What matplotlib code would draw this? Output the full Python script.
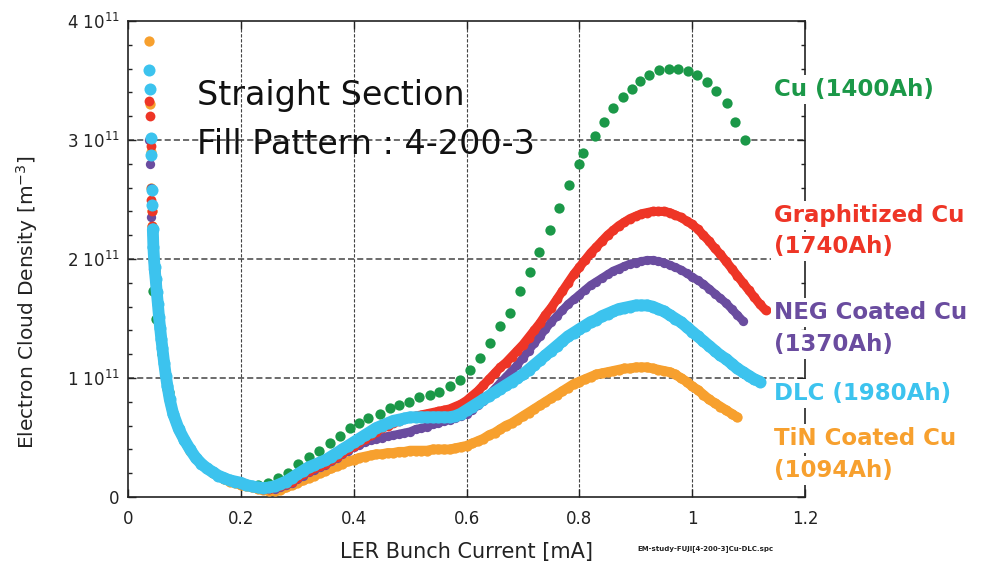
import matplotlib
matplotlib.use("Agg")
import matplotlib.pyplot as plt

plt.rcParams['font.family'] = ['DejaVu Sans']
plt.rcParams['mathtext.default'] = 'regular'

# LER bunch current [mA] for the densely sampled series
x_dense = [0.038, 0.039, 0.040, 0.041, 0.042, 0.043, 0.044, 0.045, 0.047, 0.049,
           0.051, 0.053, 0.055, 0.057, 0.059, 0.061, 0.064, 0.067, 0.070, 0.074,
           0.08, 0.09, 0.10, 0.11, 0.12, 0.13, 0.14, 0.15, 0.16, 0.17,
           0.18, 0.19, 0.20, 0.21, 0.22, 0.23, 0.24, 0.25, 0.26, 0.27,
           0.28, 0.29, 0.30, 0.31, 0.32, 0.33, 0.34, 0.35, 0.36, 0.37,
           0.38, 0.39, 0.40, 0.41, 0.42, 0.43, 0.44, 0.45, 0.46, 0.47,
           0.48, 0.49, 0.50, 0.51, 0.52, 0.53, 0.54, 0.55, 0.56, 0.57,
           0.58, 0.59, 0.60, 0.61, 0.62, 0.63, 0.64, 0.65, 0.66, 0.67,
           0.68, 0.69, 0.70, 0.71, 0.72, 0.73, 0.74, 0.75, 0.76, 0.77,
           0.78, 0.79, 0.80, 0.81, 0.82, 0.83, 0.84, 0.85, 0.86, 0.87,
           0.88, 0.89, 0.90, 0.91, 0.92, 0.93, 0.94, 0.95, 0.96, 0.97,
           0.98, 0.99, 1.00, 1.01, 1.02, 1.03, 1.04, 1.05, 1.06, 1.07,
           1.08, 1.09, 1.10, 1.11, 1.12, 1.13]

# electron cloud density in units of 1e11 m^-3
dlc = [3.59, 3.43, 3.02, 2.87, 2.58, 2.45, 2.25, 2.10, 1.93, 1.83,
       1.72, 1.62, 1.51, 1.42, 1.33, 1.25, 1.13, 1.02, 0.93, 0.82,
       0.70, 0.57, 0.48, 0.40, 0.33, 0.28, 0.24, 0.21, 0.18, 0.16,
       0.14, 0.13, 0.12, 0.10, 0.09, 0.08, 0.075, 0.08, 0.09, 0.11,
       0.13, 0.16, 0.19, 0.22, 0.25, 0.27, 0.29, 0.31, 0.34, 0.37,
       0.40, 0.43, 0.46, 0.49, 0.52, 0.55, 0.58, 0.60, 0.62, 0.64,
       0.65, 0.66, 0.67, 0.67, 0.67, 0.67, 0.67, 0.67, 0.67, 0.67,
       0.68, 0.70, 0.73, 0.76, 0.79, 0.82, 0.85, 0.88, 0.91, 0.94,
       0.97, 1.00, 1.03, 1.07, 1.11, 1.15, 1.19, 1.23, 1.27, 1.31,
       1.35, 1.38, 1.41, 1.44, 1.47, 1.49, 1.52, 1.54, 1.56, 1.58,
       1.59, 1.60, 1.61, 1.61, 1.61, 1.60, 1.58, 1.56, 1.53, 1.50,
       1.47, 1.43, 1.39, 1.35, 1.31, 1.27, 1.23, 1.19, 1.16, 1.12,
       1.08, 1.05, 1.02, 0.99, 0.97]

graphitized = [3.33, 3.20, 2.95, 2.50, 2.40, 2.28, 2.12, 2.00, 1.90, 1.80,
               1.70, 1.60, 1.50, 1.40, 1.32, 1.24, 1.12, 1.01, 0.92, 0.81,
               0.69, 0.57, 0.48, 0.40, 0.33, 0.28, 0.24, 0.21, 0.18, 0.16,
               0.14, 0.13, 0.11, 0.10, 0.09, 0.08, 0.07, 0.07, 0.08, 0.09,
               0.11, 0.13, 0.16, 0.19, 0.22, 0.24, 0.26, 0.28, 0.31, 0.34,
               0.37, 0.40, 0.43, 0.46, 0.49, 0.52, 0.55, 0.58, 0.60, 0.62,
               0.64, 0.66, 0.67, 0.68, 0.69, 0.70, 0.71, 0.72, 0.73, 0.74,
               0.76, 0.78, 0.81, 0.85, 0.89, 0.94, 0.99, 1.04, 1.09, 1.13,
               1.18, 1.23, 1.28, 1.34, 1.40, 1.46, 1.53, 1.59, 1.66, 1.73,
               1.80, 1.87, 1.93, 1.99, 2.05, 2.10, 2.15, 2.20, 2.24, 2.28,
               2.31, 2.34, 2.36, 2.38, 2.39, 2.40, 2.40, 2.40, 2.39, 2.37,
               2.35, 2.32, 2.29, 2.25, 2.20, 2.15, 2.09, 2.04, 1.98, 1.92,
               1.86, 1.80, 1.74, 1.68, 1.62, 1.57]

neg = [3.00, 2.80, 2.60, 2.35, 2.20, 2.10, 2.00, 1.92, 1.85, 1.76,
       1.66, 1.56, 1.46, 1.38, 1.29, 1.21, 1.10, 1.00, 0.91, 0.80,
       0.69, 0.57, 0.48, 0.40, 0.33, 0.28, 0.24, 0.21, 0.18, 0.16,
       0.14, 0.13, 0.11, 0.10, 0.09, 0.08, 0.07, 0.07, 0.07, 0.08,
       0.10, 0.12, 0.15, 0.18, 0.21, 0.23, 0.25, 0.27, 0.30, 0.33,
       0.36, 0.39, 0.42, 0.44, 0.46, 0.48, 0.49, 0.50, 0.51, 0.52,
       0.53, 0.54, 0.55, 0.57, 0.58, 0.59, 0.61, 0.62, 0.64, 0.65,
       0.66, 0.68, 0.70, 0.73, 0.77, 0.81, 0.86, 0.91, 0.96, 1.01,
       1.06, 1.11, 1.17, 1.23, 1.29, 1.35, 1.41, 1.47, 1.52, 1.57,
       1.62, 1.66, 1.70, 1.74, 1.78, 1.81, 1.84, 1.87, 1.90, 1.92,
       1.94, 1.96, 1.97, 1.98, 1.99, 1.99, 1.98, 1.97, 1.95, 1.93,
       1.91, 1.88, 1.85, 1.82, 1.79, 1.75, 1.71, 1.67, 1.63, 1.58,
       1.53, 1.48]

tin = [3.83, 3.30, 2.90, 2.60, 2.40, 2.28, 2.15, 2.02, 1.90, 1.80,
       1.70, 1.60, 1.50, 1.40, 1.31, 1.23, 1.11, 1.01, 0.91, 0.80,
       0.69, 0.56, 0.47, 0.39, 0.33, 0.28, 0.24, 0.20, 0.18, 0.15,
       0.13, 0.12, 0.10, 0.09, 0.08, 0.07, 0.06, 0.05, 0.05, 0.06,
       0.08, 0.10, 0.12, 0.14, 0.16, 0.18, 0.20, 0.22, 0.24, 0.26,
       0.28, 0.30, 0.31, 0.33, 0.34, 0.35, 0.36, 0.36, 0.37, 0.37,
       0.38, 0.38, 0.39, 0.39, 0.39, 0.39, 0.40, 0.40, 0.40, 0.40,
       0.41, 0.42, 0.43, 0.45, 0.47, 0.49, 0.52, 0.54, 0.57, 0.60,
       0.62, 0.65, 0.68, 0.71, 0.74, 0.77, 0.80, 0.83, 0.86, 0.89,
       0.92, 0.95, 0.97, 0.99, 1.01, 1.03, 1.04, 1.05, 1.06, 1.07,
       1.08, 1.08, 1.09, 1.09, 1.09, 1.08, 1.07, 1.06, 1.05, 1.03,
       1.00, 0.97, 0.93, 0.90, 0.86, 0.82, 0.79, 0.76, 0.73, 0.70,
       0.67]

# bare Cu is sampled more sparsely
x_cu = [0.045, 0.050, 0.060, 0.072, 0.090, 0.110, 0.130, 0.150, 0.170, 0.190,
        0.210, 0.230, 0.248, 0.266, 0.284, 0.302, 0.320, 0.339, 0.358, 0.376,
        0.393, 0.410, 0.426, 0.447, 0.464, 0.480, 0.498, 0.516, 0.535, 0.551,
        0.571, 0.588, 0.606, 0.624, 0.642, 0.659, 0.677, 0.695, 0.713, 0.729,
        0.748, 0.764, 0.781, 0.799, 0.806, 0.827, 0.843, 0.859, 0.877, 0.893,
        0.907, 0.924, 0.942, 0.959, 0.975, 0.993, 1.009, 1.026, 1.042, 1.061,
        1.076, 1.094]
cu = [1.73, 1.50, 1.20, 0.88, 0.58, 0.40, 0.28, 0.21, 0.16, 0.13,
      0.11, 0.10, 0.12, 0.16, 0.20, 0.28, 0.34, 0.39, 0.45, 0.51,
      0.58, 0.62, 0.66, 0.70, 0.75, 0.77, 0.80, 0.84, 0.86, 0.88,
      0.93, 0.98, 1.07, 1.17, 1.29, 1.44, 1.55, 1.73, 1.89, 2.06,
      2.24, 2.43, 2.62, 2.80, 2.89, 3.03, 3.15, 3.27, 3.36, 3.43,
      3.50, 3.55, 3.59, 3.60, 3.60, 3.58, 3.55, 3.49, 3.41, 3.31,
      3.15, 3.00]

labels = [["Cu (1400Ah)"],
          ["Graphitized Cu", "(1740Ah)"],
          ["NEG Coated Cu", "(1370Ah)"],
          ["DLC (1980Ah)"],
          ["TiN Coated Cu", "(1094Ah)"]]
colors = ['#1b9848', '#ee3526', '#6a4c9f', '#3cc3ee', '#f7a02e']

x_ticks = [0, 0.2, 0.4, 0.6, 0.8, 1.0, 1.2]
x_ticklabels = ['0', '0.2', '0.4', '0.6', '0.8', '1', '1.2']
y_ticks = [0, 1, 2, 3, 4]
y_ticklabels = ['0', r'1 10$^{11}$', r'2 10$^{11}$', r'3 10$^{11}$', r'4 10$^{11}$']

W, H = 986, 561
fig = plt.figure(figsize=(W / 100, H / 100), dpi=100)
ax = fig.add_axes([128 / W, 1 - 497 / H, 677 / W, 476 / H])

ax.scatter(x_cu, cu, s=55, color=colors[0], linewidths=0, zorder=3)

# dense series: dots plus a thick line through them so they read as a band
dense = [(tin, colors[4], 55, 7.0, 4),
         (neg, colors[2], 45, 6.0, 5),
         (graphitized, colors[1], 50, 6.5, 6),
         (dlc, colors[3], 75, 8.5, 7)]
for ys, c, s, lw, z in dense:
    xs = x_dense[:len(ys)]
    ax.scatter(xs, ys, s=s, color=c, linewidths=0, zorder=z)
    ax.plot(xs[6:], ys[6:], color=c, lw=lw, solid_capstyle='round',
            solid_joinstyle='round', zorder=z)

ax.set_xlim(0, 1.2)
ax.set_ylim(0, 4)
ax.set_xticks(x_ticks)
ax.set_xticklabels(x_ticklabels)
ax.set_yticks(y_ticks)
ax.set_yticklabels(y_ticklabels)
ax.set_yticks([v / 5 for v in range(21)], minor=True)
ax.tick_params(axis='both', which='both', direction='in', top=True, right=True,
               colors='#222222', labelcolor='#222222')
ax.tick_params(axis='y', which='major', length=6, width=1, labelsize=12, pad=6)
ax.tick_params(axis='y', which='minor', length=3, width=1)
ax.tick_params(axis='x', which='major', length=6, width=1, labelsize=12, pad=9)
for side in ax.spines.values():
    side.set_linewidth(1.2)
    side.set_color('#222222')

for yv in [1, 2, 3]:
    ax.axhline(yv, color='#444444', lw=1.1, dashes=(4, 2), zorder=1)
for xv in [0.2, 0.4, 0.6, 0.8, 1.0]:
    ax.axvline(xv, color='#444444', lw=0.8, dashes=(3, 1.5), zorder=1)

fig.text(197 / W, 1 - 105 / H, "Straight Section", fontsize=24, va='baseline', color='#111111')
fig.text(197 / W, 1 - 154 / H, "Fill Pattern : 4-200-3", fontsize=24, va='baseline', color='#111111')

# curve labels on the right, one line at a time
baselines = [[96], [222, 253], [319, 351], [400], [445, 477]]
for lines, ys, c in zip(labels, baselines, colors):
    for line, yb in zip(lines, ys):
        fig.text(774 / W, 1 - yb / H, line, fontsize=16.5, fontweight='bold', color=c,
                 va='baseline', zorder=5,
                 bbox=dict(facecolor='white', edgecolor='none', pad=2.5))

fig.text(466 / W, 1 - 558 / H, "LER Bunch Current [mA]", fontsize=15, ha='center',
         va='baseline', color='#222222')
fig.text(27 / W, 259 / H, r"Electron Cloud Density [m$^{-3}$]", fontsize=14.5,
         rotation=90, ha='center', va='center', color='#222222')
fig.text(637 / W, 1 - 550 / H, "EM-study-FUJI[4-200-3]Cu-DLC.spc", fontsize=5,
         fontweight='bold', va='baseline', color='#222222')

fig.savefig("out.png", dpi=100)
